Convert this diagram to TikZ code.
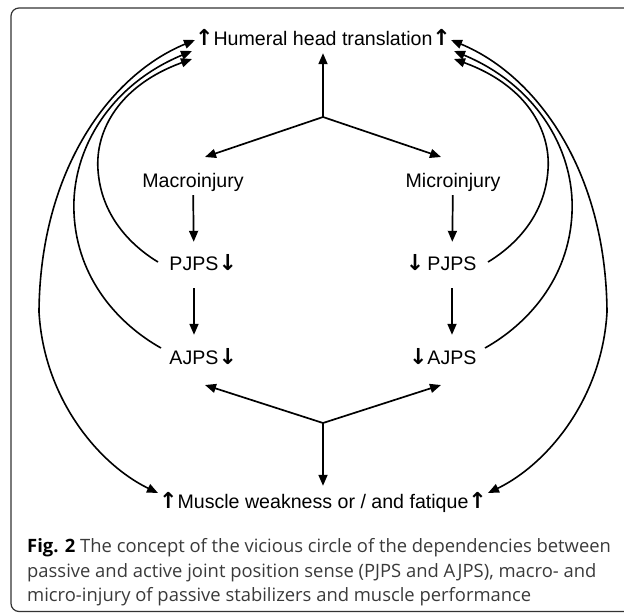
\documentclass[tikz,border=0pt]{standalone}
\usepackage{fontspec}
\setmainfont{Liberation Sans}
\newfontfamily\capfont{Open Sans}
\newfontfamily\arrfont{DejaVu Sans}
\usetikzlibrary{arrows.meta,calc}
\newcommand\myup{{\arrfont\bfseries\fontsize{22}{22}\selectfont ↑}}
\newcommand\mydown{{\arrfont\bfseries\fontsize{22}{22}\selectfont ↓}}
\definecolor{capgray}{HTML}{3A3A3A}
\begin{document}
\begin{tikzpicture}[x=1pt,y=-1pt,
  lbl/.style={font=\fontsize{19.6}{22}\selectfont, text height=14pt, text depth=4pt, inner xsep=2pt, inner ysep=4pt},
  conn/.style={line width=1.7pt, -{Triangle[length=11pt,width=9pt]}},
  dbl/.style={line width=1.6pt, {Triangle[length=11pt,width=9pt]}-{Triangle[length=11pt,width=9pt]}},
  crv/.style={line width=1.6pt, -{Triangle[length=11pt,width=9pt]}},
  frame/.style={line width=1.2pt, draw=black!80, rounded corners=8pt},
  captxt/.style={font=\capfont\fontsize{18.4}{22}\selectfont, text=capgray, inner sep=0pt, anchor=base west}
]
\useasboundingbox (0,0) rectangle (624,613);
\begin{scope}
\clip (0,0) rectangle (624,613);
\draw[frame] (700,8) -- (11,8) -- (11,611.5) -- (700,611.5);
\end{scope}

% text nodes
\node[lbl] (hum) at (323,40) {\llap{\myup}Humeral head translation\rlap{\myup}};
\node[lbl] (macro) at (193,182) {Macroinjury};
\node[lbl] (micro) at (453,182) {Microinjury};
\node[lbl] (pjL) at (194,265) {PJPS\rlap{\mydown}};
\node[lbl] (pjR) at (452,265) {\llap{\mydown\,}PJPS};
\node[lbl] (ajL) at (194,359) {AJPS\rlap{\mydown}};
\node[lbl] (ajR) at (452,359) {\llap{\mydown}AJPS};
\node[lbl] (mus) at (323,503) {\llap{\myup}Muscle weakness or / and fatique\rlap{\myup}};

% junctions and arrow ends
\coordinate (J1) at (323,117);
\coordinate (J2) at (323,423);
\coordinate (tMa) at (205,157);
\coordinate (tMi) at (441,157);
\coordinate (tAL) at (205,385);
\coordinate (tAR) at (441,385);

\draw[conn] (J1) -- (hum.south);
\draw[conn] (J1) -- (tMa);
\draw[conn] (J1) -- (tMi);
\draw[conn, shorten >=10pt] (macro) -- (pjL);
\draw[conn, shorten >=10pt] (micro) -- (pjR);
\draw[conn, shorten <=10pt, shorten >=11pt] (pjL) -- (ajL);
\draw[conn, shorten <=10pt, shorten >=11pt] (pjR) -- (ajR);
\draw[conn] (J2) -- (tAL);
\draw[conn] (J2) -- (tAR);
\draw[conn, shorten >=4pt] (J2) -- (mus.north);

% curve ends
\coordinate (oLt) at (195,40);  \coordinate (oLb) at (158,493);
\coordinate (mLt) at (192,51);  \coordinate (mLb) at (161,348);
\coordinate (iLt) at (192,59);  \coordinate (iLb) at (158,262);
\coordinate (oRt) at (451,40);  \coordinate (oRb) at (488,493);
\coordinate (mRt) at (454,51);  \coordinate (mRb) at (485,348);
\coordinate (iRt) at (454,59);  \coordinate (iRb) at (488,262);

\draw[dbl] (oLb) .. controls (100,465) and (44,400) .. (39,312) .. controls (40,170) and (110,75) .. (oLt);
\draw[crv] (mLb) .. controls (120,325) and (77,280) .. (74,213) .. controls (71,150) and (110,85) .. (mLt);
\draw[crv] (iLb) .. controls (130,245) and (101,215) .. (98,170) .. controls (95,130) and (120,85) .. (iLt);
\draw[dbl] (oRb) .. controls (546,465) and (602,400) .. (607,312) .. controls (606,170) and (536,75) .. (oRt);
\draw[crv] (mRb) .. controls (526,325) and (569,280) .. (572,213) .. controls (575,150) and (536,85) .. (mRt);
\draw[crv] (iRb) .. controls (516,245) and (545,215) .. (548,170) .. controls (551,130) and (526,85) .. (iRt);

% caption
\node[captxt] (c1) at (27,552) {{\bfseries\color{black}Fig. 2} The concept of the vicious circle of the dependencies between};
\node[captxt] (c2) at (27,577) {passive and active joint position sense (PJPS and AJPS), macro- and};
\node[captxt] (c3) at (27,601) {micro-injury of passive stabilizers and muscle performance};
\end{tikzpicture}
\end{document}
